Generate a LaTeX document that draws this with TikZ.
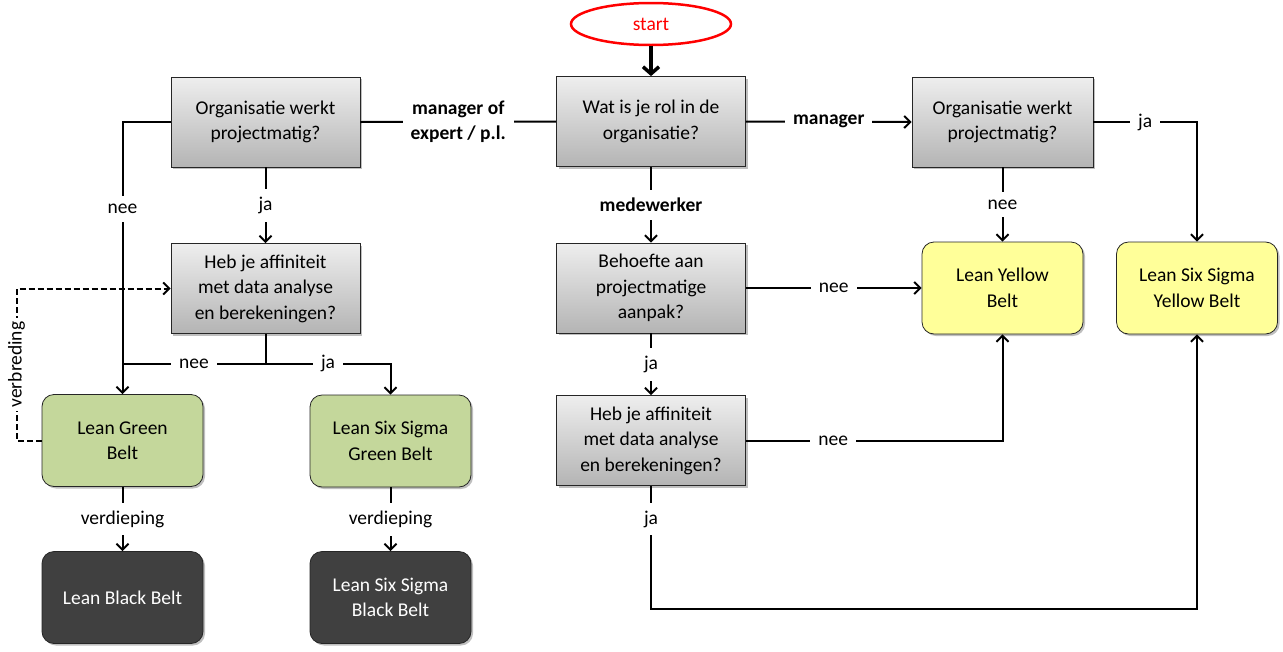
\documentclass[tikz,border=0pt]{standalone}
\usepackage{fontspec}
\setmainfont{Carlito}
\usepackage{tikz}
\usetikzlibrary{shapes.geometric,arrows.meta}
\definecolor{boxtop}{RGB}{238,238,238}
\definecolor{boxbot}{RGB}{180,180,180}
\definecolor{greenbelt}{RGB}{196,215,155}
\definecolor{yellowbelt}{RGB}{255,255,153}
\definecolor{blackbelt}{RGB}{64,64,64}
\tikzset{shadowed/.style={preaction={fill=black,opacity=0.25,transform canvas={shift={(2pt,-2pt)}}}}}
\tikzset{question/.style={shadowed,draw=black!85,line width=0.8pt,top color=boxtop,bottom color=boxbot,minimum width=189pt,minimum height=90pt,align=center,font=\fontsize{19.5}{25.5}\selectfont}}
\tikzset{belt/.style={shadowed,draw=black!85,line width=0.8pt,rounded corners=12pt,fill=#1,minimum width=161pt,minimum height=92pt,align=center,font=\fontsize{19.5}{25.5}\selectfont}}
\tikzset{lbl/.style={fill=white,inner sep=8pt,font=\fontsize{19.5}{24}\selectfont}}
\tikzset{lblb/.style={lbl,font=\fontsize{19.5}{25}\selectfont\bfseries,align=center}}
\tikzset{flow/.style={line width=2pt,-{Straight Barb[length=6pt,width=12pt]}}}

\begin{document}
\begin{tikzpicture}[x=1pt,y=-1pt]
	\useasboundingbox (0,0) rectangle (1283,651);
	% start
	\node[ellipse,draw=red,line width=2.5pt,minimum width=160pt,minimum height=42pt,text=red,font=\fontsize{19.5}{24}\selectfont] (start) at (651,24) {start};
	% vragen
	\node[question] (rol) at (651,121.5) {Wat is je rol in de\\organisatie?};
	\node[question] (orgL) at (265.5,122) {Organisatie werkt\\projectmatig?};
	\node[question,minimum width=181pt] (orgR) at (1002.5,122) {Organisatie werkt\\projectmatig?};
	\node[question] (hebL) at (265.5,288.5) {Heb je affiniteit\\met data analyse\\en berekeningen?};
	\node[question] (beh) at (651,288) {Behoefte aan\\projectmatige\\aanpak?};
	\node[question] (hebM) at (651,440.5) {Heb je affiniteit\\met data analyse\\en berekeningen?};
	% belts
	\node[belt=yellowbelt] (lyb) at (1002.5,288) {Lean Yellow\\Belt};
	\node[belt=yellowbelt] (lssyb) at (1197,288) {Lean Six Sigma\\Yellow Belt};
	\node[belt=greenbelt] (lgb) at (122.5,440.5) {Lean Green\\Belt};
	\node[belt=greenbelt] (lssgb) at (390.5,441) {Lean Six Sigma\\Green Belt};
	\node[belt=blackbelt,text=white] (lbb) at (122.5,597.5) {Lean Black Belt};
	\node[belt=blackbelt,text=white] (lssbb) at (390.5,597.5) {Lean Six Sigma\\Black Belt};

	\draw[flow,line width=3.5pt,-{Straight Barb[length=7pt,width=16pt]}] (start.south) -- (rol.north);
	\draw[line width=2pt] (rol.west) -- node[lblb]{manager of\\expert / p.l.} (orgL.east);
	\draw[flow] (rol.east) -- node[lblb]{manager} (orgR.west);
	\draw[flow] (rol.south) -- node[lblb]{medewerker} (beh.north);

	\draw[flow] (orgL.west) -| node[lbl,pos=0.66]{nee} (lgb.north);
	\draw[flow] (orgL.south) -- node[lbl]{ja} (hebL.north);
	\draw[line width=2pt] (hebL.south) -- ++(0,30) coordinate (splitL);
	\draw[line width=2pt] (splitL) -- node[lbl]{nee} (splitL -| lgb.north);
	\draw[flow] (splitL) -| node[lbl,pos=0.25]{ja} (lssgb.north);
	\draw[flow,dash pattern=on 6pt off 3pt] (lgb.west) -- ++(-25,0) |- node[lbl,rotate=90,pos=0.25,inner sep=4pt]{verbreding} (hebL.west);
	\draw[flow] (lgb.south) -- node[lbl]{verdieping} (lbb.north);
	\draw[flow] (lssgb.south) -- node[lbl]{verdieping} (lssbb.north);

	\draw[flow] (orgR.south) -- node[lbl]{nee} (lyb.north);
	\draw[flow] (orgR.east) -| node[lbl,pos=0.25]{ja} (lssyb.north);
	\draw[flow] (beh.east) -- node[lbl]{nee} (lyb.west);
	\draw[flow] (beh.south) -- node[lbl]{ja} (hebM.north);
	\draw[flow] (hebM.east) -| node[lbl,pos=0.17]{nee} (lyb.south);
	\draw[flow] (hebM.south) -- node[lbl,pos=0.27]{ja} ++(0,123) -| (lssyb.south);
\end{tikzpicture}
\end{document}
